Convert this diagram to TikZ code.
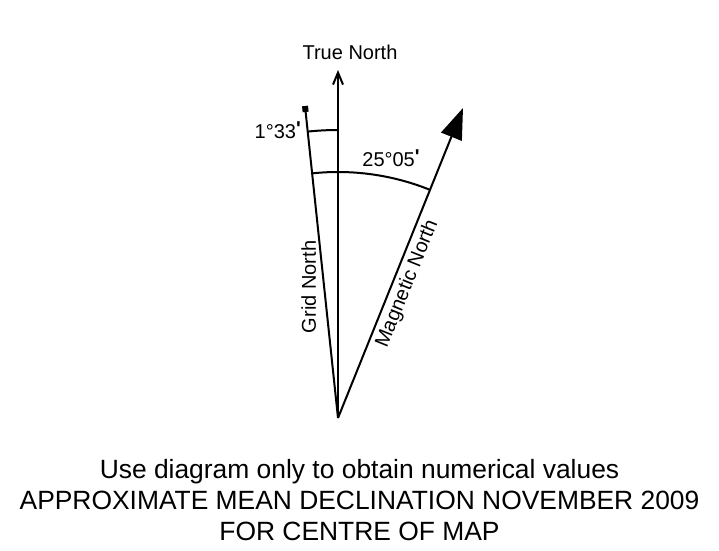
\documentclass[tikz,border=0pt]{standalone}
\usepackage{fontspec}
\setmainfont{Liberation Sans}
\usetikzlibrary{arrows.meta,positioning}
\tikzset{
  lbl/.style={font=\fontsize{20}{24}\selectfont, inner sep=0pt},
  note/.style={font=\fontsize{26.4}{31}\selectfont, inner sep=0pt},
  dirline/.style={line width=2pt},
}
\newcommand{\amin}{\raisebox{3pt}{\textbf{\textquotesingle}}}

\begin{document}
\begin{tikzpicture}[x=1pt,y=1pt]
        \useasboundingbox (0,0) rectangle (719,550);
        % 三个方向的起点和终点
        \coordinate (O) at (338,132);
        \coordinate (T) at (338,480);
        \coordinate (G) at (305,444);
        \coordinate (M) at (463,442);

        % 绘制真北
        \draw[dirline, -{Straight Barb[length=12pt,width=10pt]}] (O) -- (T);
        \node[lbl, anchor=base] (tn) at (350,490) {True North};

        % 绘制坐标北
        \draw[dirline, -{Square[length=6pt,width=6pt]}] (O) -- (G)
            node[lbl, pos=0.42, rotate=90, anchor=south, inner sep=7pt] (gn) {Grid North};

        % 绘制磁北
        \draw[dirline, -{Triangle[length=31pt,width=22pt]}] (O) -- (M)
            node[lbl, pos=0.45, sloped, below, inner sep=4pt] (mn) {Magnetic North};

        % 两个偏角
        \draw[dirline] ([shift={(90:288)}]O) arc[start angle=90, end angle=96, radius=288];
        \node[lbl, anchor=base east] (a1) at (301,412) {1°33\amin};
        \draw[dirline] ([shift={(68:246)}]O) arc[start angle=68, end angle=96, radius=246];
        \node[lbl, anchor=base] (a2) at (391,384) {25°05\amin};

        % 说明文字
        \node[note, anchor=base] (n1) at (359.5,72) {Use diagram only to obtain numerical values};
        \node[note, anchor=base] (n2) at (359.5,41) {APPROXIMATE MEAN DECLINATION NOVEMBER 2009};
        \node[note, anchor=base] (n3) at (359.5,10) {FOR CENTRE OF MAP};
    \end{tikzpicture}
\end{document}
